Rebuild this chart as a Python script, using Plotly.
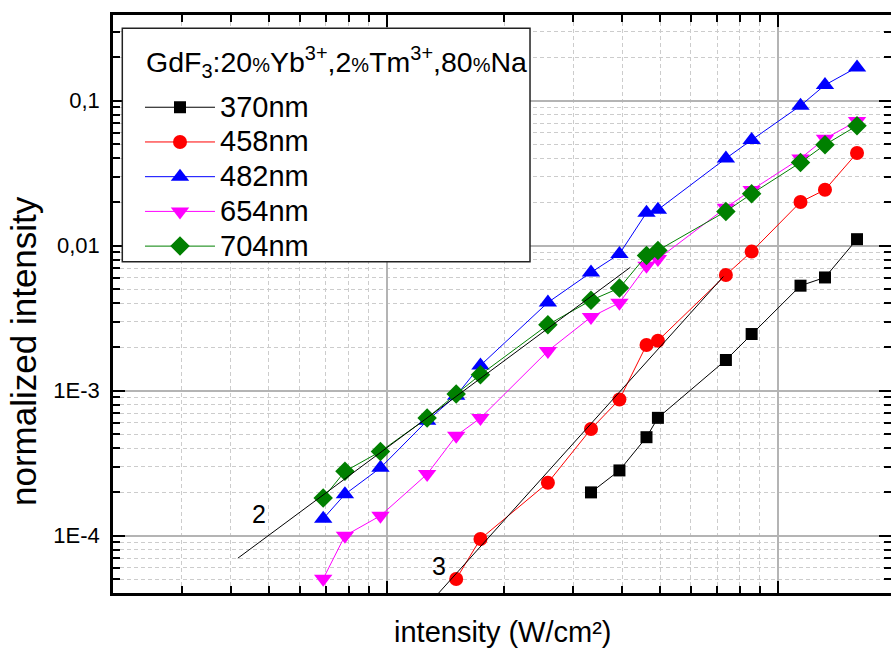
import math
import plotly.graph_objects as go

# Excitation intensity (W/cm²) for each measurement step
intensity = [6.89, 7.83, 9.65, 12.70, 15.07, 17.38, 25.85, 33.31,
             39.38, 46.18, 49.39, 73.68, 85.73, 114.3, 132.0, 159.4]

# Normalized upconversion emission per band
em_370 = [1.99e-4, 2.82e-4, 4.78e-4, 6.50e-4, 1.628e-3, 2.46e-3,
          5.30e-3, 6.04e-3, 1.109e-2]
em_458 = [5.03e-5, 9.50e-5, 2.32e-4, 5.44e-4, 8.70e-4, 2.066e-3,
          2.212e-3, 6.28e-3, 9.11e-3, 2.001e-2, 2.43e-2, 4.36e-2]
em_482 = [1.31e-4, 1.93e-4, 2.94e-4, 6.21e-4, 9.24e-4, 1.494e-3,
          4.06e-3, 6.54e-3, 8.77e-3, 1.689e-2, 1.771e-2, 4.00e-2,
          5.36e-2, 9.24e-2, 0.1283, 0.1697]
em_654 = [5.05e-5, 1.00e-4, 1.374e-4, 2.66e-4, 4.89e-4, 6.48e-4,
          1.879e-3, 3.22e-3, 4.04e-3, 7.28e-3, 8.10e-3, 1.829e-2,
          2.42e-2, 4.00e-2, 5.47e-2, 7.24e-2]
em_704 = [1.82e-4, 2.78e-4, 3.81e-4, 6.48e-4, 9.49e-4, 1.289e-3,
          2.85e-3, 4.20e-3, 5.11e-3, 8.57e-3, 9.28e-3, 1.724e-2,
          2.28e-2, 3.75e-2, 4.97e-2, 6.72e-2]

# Reference power-law guides (slope 2 and slope 3)
guide2_x = [4.17, 42.0]
guide2_y = [7.0e-5, 7.1e-3]
guide3_x = [12.5, 72.6]
guide3_y = [3.13e-5, 6.13e-3]
guide_labels = ["2", "3"]
guide_label_x = [4.71, 13.58]
guide_label_y = [1.42e-4, 6.21e-5]

series_names = ["370nm", "458nm", "482nm", "654nm", "704nm"]
series_vals = [em_370, em_458, em_482, em_654, em_704]
series_x = [intensity[7:], intensity[4:], intensity, intensity, intensity]
colors = ["#000000", "#ff0000", "#0000ff", "#ff00ff", "#008000"]
symbols = ["square", "circle", "triangle-up", "triangle-down", "diamond"]
sizes = [12, 14, 16, 16, 15]

y_major = [1e-4, 1e-3, 1e-2, 1e-1]
y_major_text = ["1E-4", "1E-3", "0,01", "0,1"]
x_major = [10, 100]

FONT = "Liberation Sans, Arial, sans-serif"

fig = go.Figure()
for name, xs, ys, c, sym, sz in zip(series_names, series_x, series_vals,
                                    colors, symbols, sizes):
    fig.add_trace(go.Scatter(
        x=xs, y=ys, mode="lines+markers",
        name='<span style="font-size:29px">' + name + '</span>',
        line=dict(color=c, width=1),
        marker=dict(symbol=sym, size=sz, color=c),
    ))

for gx, gy in [(guide2_x, guide2_y), (guide3_x, guide3_y)]:
    fig.add_trace(go.Scatter(
        x=gx, y=gy, mode="lines", showlegend=False, hoverinfo="skip",
        line=dict(color="black", width=1),
    ))

for t, lx, ly in zip(guide_labels, guide_label_x, guide_label_y):
    fig.add_annotation(x=math.log10(lx), y=math.log10(ly), text=t,
                       showarrow=False, font=dict(size=25, color="black"))

# minor tick positions (2..9 within each decade)
x_minor = [m * 10 ** d for d in range(0, 3) for m in range(2, 10)]
y_minor = [m * 10 ** d for d in range(-5, 0) for m in range(2, 10)]

axis_common = dict(
    type="log", showline=True, linecolor="black", linewidth=2.5,
    mirror="ticks", ticks="inside", ticklen=12, tickwidth=2, tickcolor="black",
    showgrid=True, gridcolor="#b4b4b4", gridwidth=1.5, zeroline=False,
)

fig.update_xaxes(
    **axis_common,
    range=[0.3010, 2.2893], tickmode="array", tickvals=x_major,
    showticklabels=False,
    minor=dict(tickmode="array", tickvals=x_minor, ticks="inside", ticklen=7,
               tickwidth=1.5, tickcolor="black", showgrid=True,
               gridcolor="#cccccc", gridwidth=1, griddash="4px,3px"),
)
fig.update_yaxes(
    **axis_common,
    range=[-4.395, -0.409], tickmode="array", tickvals=y_major,
    ticktext=y_major_text, tickfont=dict(size=22, color="black"),
    ticklabelstandoff=6,
    minor=dict(tickmode="array", tickvals=y_minor, ticks="inside", ticklen=7,
               tickwidth=1.5, tickcolor="black", showgrid=True,
               gridcolor="#cccccc", gridwidth=1, griddash="4px,3px"),
)

fig.add_annotation(xref="paper", yref="paper", x=-0.1144, y=0.4187,
                   text="normalized intensity", textangle=-90, showarrow=False,
                   xanchor="center", yanchor="middle",
                   font=dict(size=35, color="black"))
fig.add_annotation(xref="paper", yref="paper", x=0.5013, y=-0.0675,
                   text="intensity (W/cm²)", showarrow=False,
                   xanchor="center", yanchor="middle",
                   font=dict(size=29, color="black"))

# legend frame and heading
fig.add_shape(type="rect", xref="paper", yref="paper",
              x0=0.01195, x1=0.5360, y0=0.5732, y1=0.9770,
              fillcolor="white", line=dict(color="#222222", width=1.5),
              layer="above")
pct = '<span style="font-size:20px">%</span>'
legend_title = ("GdF<sub>3</sub>:20" + pct + "Yb<sup>3+</sup>,2" + pct +
                "Tm<sup>3+</sup>,80" + pct + "Na")
fig.add_annotation(xref="paper", yref="paper", x=0.0402, y=0.9187,
                   text=legend_title, showarrow=False,
                   xanchor="left", yanchor="middle",
                   font=dict(size=28.5, color="black"))

fig.update_layout(
    width=891, height=648,
    margin=dict(l=113, r=0, t=15, b=55, autoexpand=False),
    paper_bgcolor="white", plot_bgcolor="white",
    font=dict(family=FONT, color="black", size=22),
    showlegend=True,
    legend=dict(
        x=0.0347, y=0.8791, xanchor="left", yanchor="top",
        bgcolor="rgba(0,0,0,0)", borderwidth=0,
        font=dict(size=24.4, color="black"),
        itemwidth=70, tracegroupgap=0,
    ),
)

fig.write_html("out.html")
